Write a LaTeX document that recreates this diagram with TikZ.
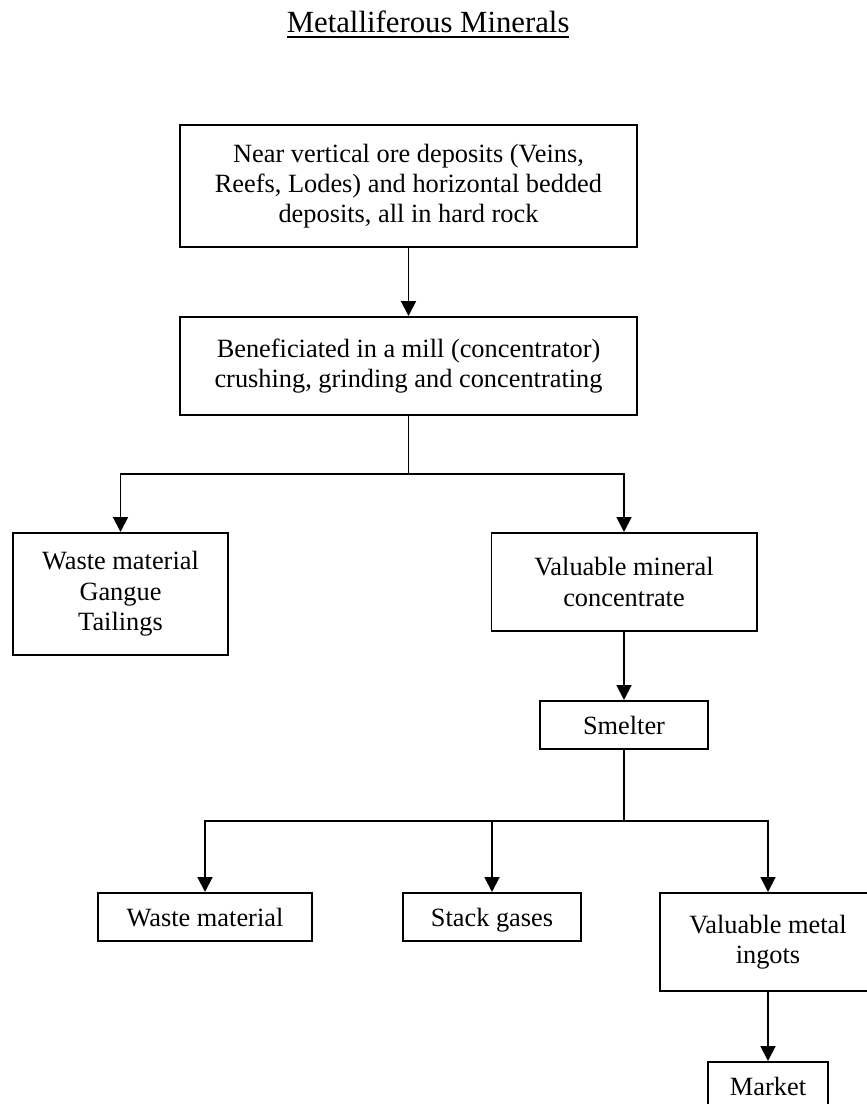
\documentclass[tikz,border=0pt]{standalone}
\usepackage{fontspec}
\setmainfont{Liberation Serif}
\usetikzlibrary{arrows.meta}
\newcommand{\thickul}[1]{\setbox0\hbox{#1}\rlap{\copy0}\rule[-2.2pt]{\wd0}{0.9pt}}

\begin{document}
\begin{tikzpicture}[
  >={Triangle[width=6.8pt,length=6.8pt]},
  font=\fontsize{12}{13.8}\selectfont,
  stage/.style={
    rectangle, draw=black, line width=0.9pt, fill=white,
    align=center, inner sep=2pt
  },
  oneline/.style={stage, text height=10pt, text depth=1.5pt},
  flow/.style={->, line width=0.9pt, black},
  trunk/.style={line width=0.9pt, black}
]
\useasboundingbox (0,0) rectangle (13.872,17.664);

% =====================================================================
% Title
% =====================================================================
\node[anchor=base, font=\fontsize{14}{16}\selectfont] (Title) at (6.85,17.136)
  {\thickul{Metalliferous Minerals}};

% =====================================================================
% Mine and mill
% =====================================================================
\node[stage, minimum width=7.312cm, minimum height=1.952cm] (Deposit) at (6.536,14.688)
  {Near vertical ore deposits (Veins,\\ Reefs, Lodes) and horizontal bedded\\ deposits, all in hard rock};
\node[stage, minimum width=7.312cm, minimum height=1.568cm] (Mill) at (6.536,11.808)
  {Beneficiated in a mill (concentrator)\\ crushing, grinding and concentrating};

\node[stage, minimum width=3.44cm, minimum height=1.952cm] (Tailings) at (1.928,8.16)
  {Waste material\\ Gangue\\ Tailings};
\node[stage, minimum width=4.24cm, minimum height=1.568cm] (Concentrate) at (9.984,8.352)
  {Valuable mineral\\ concentrate};

% =====================================================================
% Smelter and products
% =====================================================================
\node[oneline, minimum width=2.688cm, minimum height=0.768cm] (Smelter) at (9.984,6.064)
  {Smelter};

\node[oneline, minimum width=3.424cm, minimum height=0.768cm] (Slag) at (3.28,2.992)
  {Waste material};
\node[oneline, minimum width=2.848cm, minimum height=0.768cm] (Gases) at (7.872,2.992)
  {Stack gases};
\node[stage, minimum width=3.456cm, minimum height=1.568cm] (Ingots) at (12.288,2.592)
  {Valuable metal\\ ingots};
\node[oneline, minimum width=1.92cm, minimum height=0.768cm] (Market) at (12.288,0.288)
  {Market};

% =====================================================================
% Flows
% =====================================================================
\coordinate (MillSplit) at (6.536,10.08);
\coordinate (SmeltSplit) at (9.984,4.528);

\draw[flow] (Deposit) -- (Mill);

% mill splits into tailings and concentrate
\draw[trunk] (Mill) -- (MillSplit);
\draw[flow] (MillSplit) -| (Tailings);
\draw[flow] (MillSplit) -| (Concentrate);

\draw[flow] (Concentrate) -- (Smelter);

% smelter splits into three products
\draw[trunk] (Smelter) -- (SmeltSplit);
\draw[flow] (SmeltSplit) -| (Slag);
\draw[flow] (Gases |- SmeltSplit) -- (Gases);
\draw[flow] (SmeltSplit) -| (Ingots);

\draw[flow] (Ingots) -- (Market);

\end{tikzpicture}
\end{document}
